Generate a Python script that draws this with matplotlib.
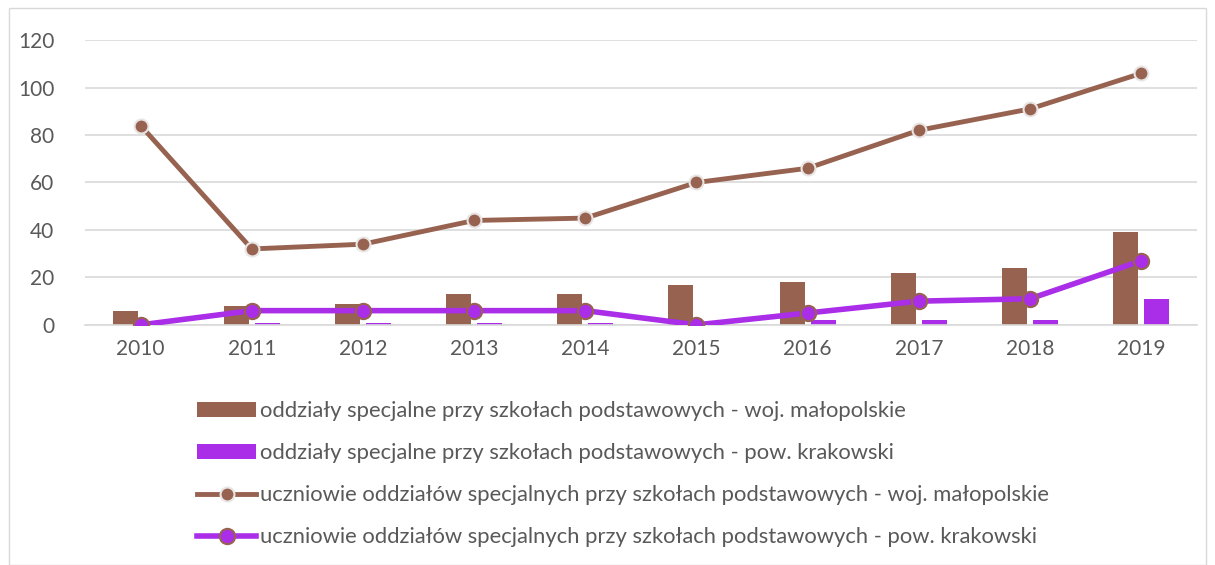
import matplotlib.pyplot as plt
import numpy as np
from matplotlib.patches import Rectangle

plt.rcParams['font.family'] = ['Lato', 'DejaVu Sans']

years = ['2010', '2011', '2012', '2013', '2014', '2015', '2016', '2017', '2018', '2019']
oddzialy_woj = [6, 8, 9, 13, 13, 17, 18, 22, 24, 39]
oddzialy_pow = [0, 1, 1, 1, 1, 0, 2, 2, 2, 11]
uczniowie_woj = [84, 32, 34, 44, 45, 60, 66, 82, 91, 106]
uczniowie_pow = [0, 6, 6, 6, 6, 0, 5, 10, 11, 27]

labels = [
    'oddziały specjalne przy szkołach podstawowych - woj. małopolskie',
    'oddziały specjalne przy szkołach podstawowych - pow. krakowski',
    'uczniowie oddziałów specjalnych przy szkołach podstawowych - woj. małopolskie',
    'uczniowie oddziałów specjalnych przy szkołach podstawowych - pow. krakowski',
]

brown = '#976350'
purple = '#AA2DE8'
text_col = '#595959'

fig = plt.figure(figsize=(12.15, 5.65), dpi=100)
ax = fig.add_axes([0.07, 0.425, 0.915, 0.504])

x = np.arange(len(years))
w = 0.225
b1 = ax.bar(x - 0.14, oddzialy_woj, width=w, color=brown, label=labels[0], zorder=2)
b2 = ax.bar(x + 0.14, oddzialy_pow, width=w, color=purple, label=labels[1], zorder=2)
l1, = ax.plot(x, uczniowie_woj, color=brown, lw=3.5, marker='o', ms=10,
              mfc=brown, mec='#e8e4e4', mew=1.5, label=labels[2], zorder=3)
l2, = ax.plot(x, uczniowie_pow, color=purple, lw=4, marker='o', ms=11,
              mfc=purple, mec=brown, mew=1.5, label=labels[3], zorder=4)

ax.set_xlim(-0.5, len(years) - 0.5)
ax.set_ylim(0, 120)
ax.set_yticks(range(0, 121, 20))
ax.set_xticks(x)
ax.set_xticklabels(years)
ax.grid(axis='y', color='#d9d9d9', lw=1.2, zorder=0)
ax.set_axisbelow(True)
for s in ['top', 'right', 'left']:
    ax.spines[s].set_visible(False)
ax.spines['bottom'].set_color('#d9d9d9')
ax.spines['bottom'].set_linewidth(1.2)
ax.tick_params(length=0, labelsize=15, colors=text_col, pad=10)
ax.tick_params(axis='y', pad=22)

leg = fig.legend([b1, b2, l1, l2], labels, loc='upper left',
                 bbox_to_anchor=(0.155, 0.305),
                 frameon=False, fontsize=15.8, labelcolor=text_col,
                 handlelength=2.7, handletextpad=0.15, labelspacing=1.0,
                 borderaxespad=0)

fig.patches.append(Rectangle((0.007, 0.0), 0.986, 0.985, transform=fig.transFigure,
                             fill=False, ec='#d9d9d9', lw=1))

fig.savefig('out.png', dpi=100)
